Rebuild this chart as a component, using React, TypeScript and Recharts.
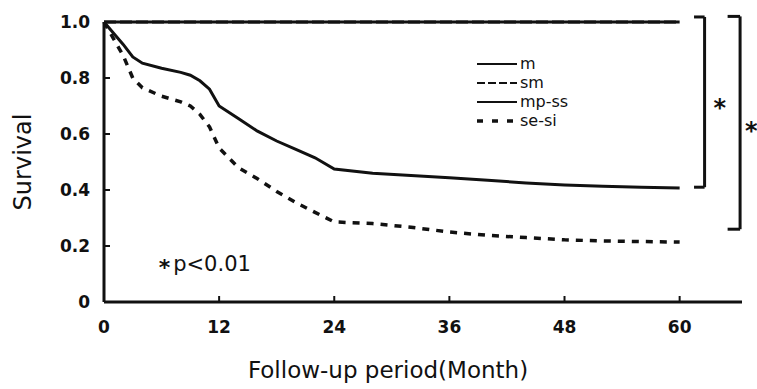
import { Label, Legend, Line, LineChart, ReferenceDot, ReferenceLine, XAxis, YAxis } from "recharts";

const months = [0, 1, 2, 3, 4, 6, 8, 9, 10, 11, 12, 14, 16, 18, 20, 22, 24, 28, 32, 36, 40, 44, 48, 52, 56, 60];
const mValues = [1, 1, 1, 1, 1, 1, 1, 1, 1, 1, 1, 1, 1, 1, 1, 1, 1, 1, 1, 1, 1, 1, 1, 1, 1, 1];
const smValues = [1, 1, 1, 1, 1, 1, 1, 1, 1, 1, 1, 1, 1, 1, 1, 1, 1, 1, 1, 1, 1, 1, 1, 1, 1, 1];
const mpSsValues = [
  1.0, 0.96, 0.92, 0.875, 0.853, 0.835, 0.82, 0.81, 0.79, 0.76, 0.7, 0.655, 0.61, 0.575, 0.545, 0.515, 0.475,
  0.46, 0.452, 0.444, 0.435, 0.425, 0.418, 0.413, 0.41, 0.407,
];
const seSiValues = [
  1.0, 0.94, 0.88, 0.8, 0.765, 0.735, 0.715, 0.7, 0.67, 0.625, 0.55, 0.48, 0.44, 0.395, 0.355, 0.32, 0.286,
  0.28, 0.267, 0.25, 0.238, 0.23, 0.222, 0.218, 0.216, 0.214,
];

const xTicks = [0, 12, 24, 36, 48, 60];
const yTicks = [0, 0.2, 0.4, 0.6, 0.8, 1.0];
const legendNames = ["m", "sm", "mp-ss", "se-si"];

// brackets on the right: x of the bar, top and bottom value, start of the little ticks
const bracketA = { x: 62.6, top: 1.018, bottom: 0.41, from: 61.5 };
const bracketB = { x: 66.3, top: 1.02, bottom: 0.26, from: 65.0 };

const data = months.map((month, i) => ({
  month,
  m: mValues[i],
  sm: smValues[i],
  mpss: mpSsValues[i],
  sesi: seSiValues[i],
}));

const FONT = "'DejaVu Sans', sans-serif";
const INK = "#111";

function YTick(props: any) {
  const { x, y, payload } = props;
  const v = payload.value;
  return (
    <g>
      {v > 0 && <line x1={x + 14} x2={x + 20} y1={y} y2={y} stroke={INK} strokeWidth={2} />}
      <text x={x} y={y + 6} textAnchor="end" fontSize={17} fontWeight="bold" fontFamily={FONT} fill={INK}>
        {v === 0 ? "0" : v.toFixed(1)}
      </text>
    </g>
  );
}

function XTick(props: any) {
  const { x, y, payload } = props;
  return (
    <g>
      {payload.value > 0 && <line x1={x} x2={x} y1={y - 19} y2={y - 25} stroke={INK} strokeWidth={2} />}
      <text x={x} y={y + 12} textAnchor="middle" fontSize={17} fontWeight="bold" fontFamily={FONT} fill={INK}>
        {payload.value}
      </text>
    </g>
  );
}

const rowY = [14, 33, 52, 71];

function LegendBox() {
  return (
    <svg width={150} height={84} style={{ display: "block" }}>
      {legendNames.map((name, i) => {
        const y = rowY[i];
        let sample;
        if (i === 1) sample = <line x1={2} x2={42} y1={y} y2={y} stroke={INK} strokeWidth={2} strokeDasharray="8 3" />;
        else if (i === 3) sample = <line x1={2} x2={44} y1={y} y2={y} stroke={INK} strokeWidth={3.5} strokeDasharray="6 9" />;
        else sample = <line x1={2} x2={42} y1={y} y2={y} stroke={INK} strokeWidth={2} />;
        return (
          <g key={name}>
            {sample}
            <text x={45} y={y + 5} fontSize={16} fontFamily={FONT} fill={INK}>
              {name}
            </text>
          </g>
        );
      })}
    </svg>
  );
}

const star = (dx: number, dy: number) => (p: any) => {
  const vb = p.viewBox;
  return (
    <text x={vb.x + dx} y={vb.y + vb.height / 2 + dy} fontSize={24} fontWeight="bold" fontFamily={FONT} fill={INK}>
      *
    </text>
  );
};

export default function App() {
  return (
    <div style={{ position: "absolute", left: 0, top: 0, width: 757, height: 389, background: "#fff" }}>
      <LineChart width={757} height={389} data={data} margin={{ top: 22, right: 15, bottom: 27, left: 0 }}>
        <XAxis
          dataKey="month"
          type="number"
          domain={[0, 66.5]}
          ticks={xTicks}
          height={60}
          tickSize={0}
          tickMargin={19}
          tickLine={false}
          axisLine={{ stroke: INK, strokeWidth: 3 }}
          tick={<XTick />}
        >
          <Label
            content={(p: any) => (
              <text x={p.viewBox.x + 284} y={p.viewBox.y + 76} textAnchor="middle" fontSize={23} fontFamily={FONT} fill={INK}>
                Follow-up period(Month)
              </text>
            )}
          />
        </XAxis>
        <YAxis
          type="number"
          domain={[0, 1]}
          ticks={yTicks}
          width={104}
          tickSize={0}
          tickMargin={14}
          tickLine={false}
          axisLine={{ stroke: INK, strokeWidth: 3 }}
          tick={<YTick />}
        >
          <Label
            content={(p: any) => {
              const cx = 31;
              const cy = p.viewBox.y + p.viewBox.height / 2;
              return (
                <text x={cx} y={cy} transform={`rotate(-90 ${cx} ${cy})`} textAnchor="middle" fontSize={24} fontFamily={FONT} fill={INK}>
                  Survival
                </text>
              );
            }}
          />
        </YAxis>
        <Legend
          layout="vertical"
          align="center"
          verticalAlign="middle"
          content={() => <LegendBox />}
          wrapperStyle={{ position: "absolute", left: 475, top: 50, width: 150 }}
        />
        <Line dataKey="mpss" name="mp-ss" stroke={INK} strokeWidth={3} dot={false} isAnimationActive={false} />
        <Line dataKey="sesi" name="se-si" stroke={INK} strokeWidth={3.5} strokeDasharray="7 7" dot={false} isAnimationActive={false} />
        <Line dataKey="m" name="m" stroke={INK} strokeWidth={3} dot={false} isAnimationActive={false} />
        <Line dataKey="sm" name="sm" stroke={INK} strokeWidth={3} strokeDasharray="12 4" dot={false} isAnimationActive={false} />

        <ReferenceLine
          segment={[{ x: bracketA.x, y: bracketA.top }, { x: bracketA.x, y: bracketA.bottom }]}
          stroke={INK}
          strokeWidth={3}
          ifOverflow="visible"
        >
          <Label content={star(9, 14)} />
        </ReferenceLine>
        <ReferenceLine segment={[{ x: bracketA.from, y: bracketA.top }, { x: bracketA.x, y: bracketA.top }]} stroke={INK} strokeWidth={3} ifOverflow="visible" />
        <ReferenceLine segment={[{ x: bracketA.from, y: bracketA.bottom }, { x: bracketA.x, y: bracketA.bottom }]} stroke={INK} strokeWidth={3} ifOverflow="visible" />

        <ReferenceLine
          segment={[{ x: bracketB.x, y: bracketB.top }, { x: bracketB.x, y: bracketB.bottom }]}
          stroke={INK}
          strokeWidth={3}
          ifOverflow="visible"
        >
          <Label content={star(5, 16)} />
        </ReferenceLine>
        <ReferenceLine segment={[{ x: bracketB.from, y: bracketB.top }, { x: bracketB.x, y: bracketB.top }]} stroke={INK} strokeWidth={3} ifOverflow="visible" />
        <ReferenceLine segment={[{ x: bracketB.from, y: bracketB.bottom }, { x: bracketB.x, y: bracketB.bottom }]} stroke={INK} strokeWidth={3} ifOverflow="visible" />

        <ReferenceDot
          x={5.7}
          y={0.14}
          r={0}
          ifOverflow="visible"
          label={(p: any) => (
            <text x={p.viewBox.x} y={p.viewBox.y + 8} fontSize={21} fontFamily={FONT} fill={INK}>
              <tspan fontWeight="bold" fontSize={22} dy={4}>*</tspan>
              <tspan dx={3} dy={-4}>p&lt;0.01</tspan>
            </text>
          )}
        />
      </LineChart>
    </div>
  );
}
